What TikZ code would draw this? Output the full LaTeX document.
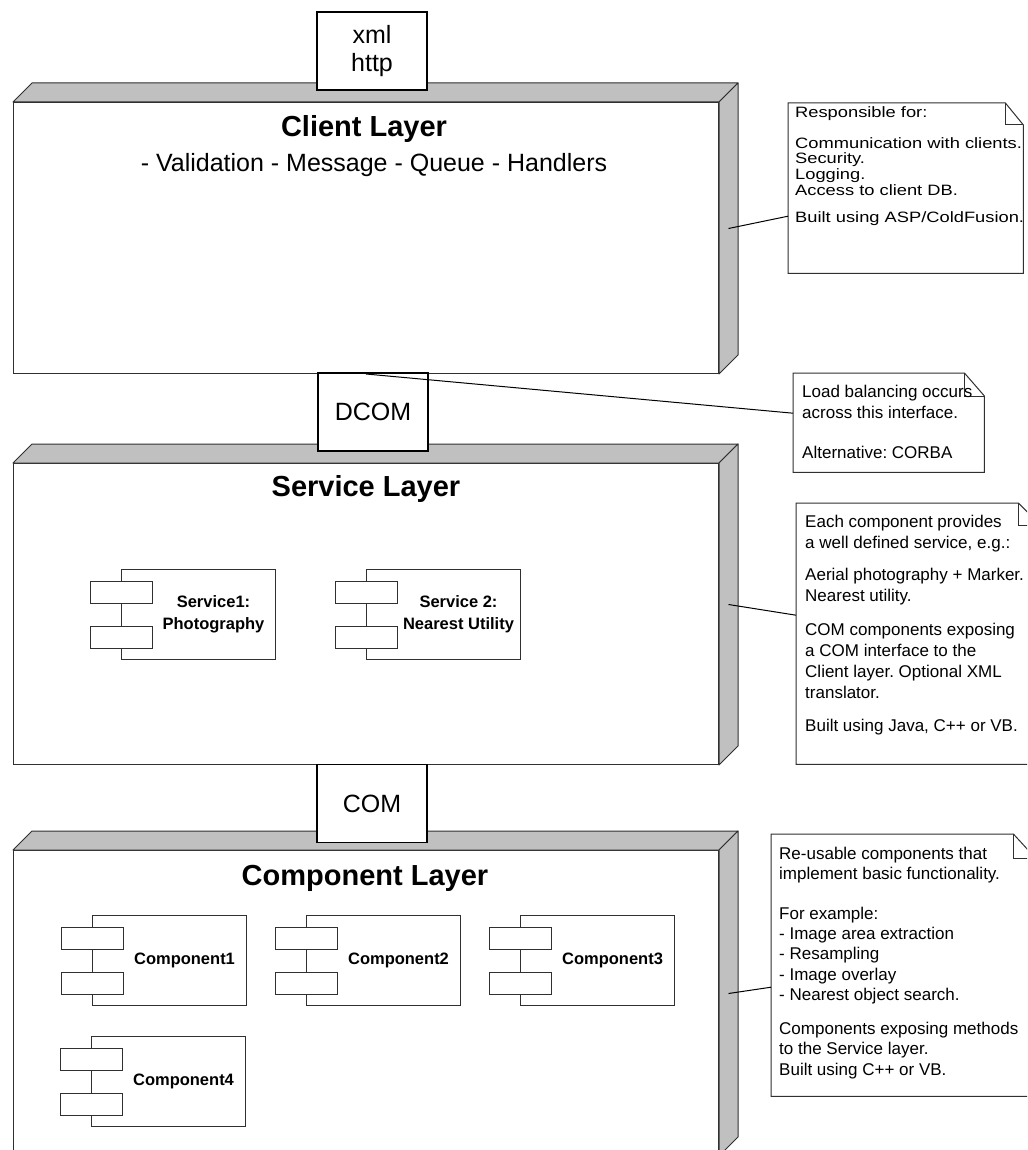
\documentclass[tikz,border=0pt]{standalone}
\usepackage{fontspec}
\setmainfont{Liberation Sans}
\newfontfamily\widefont[FakeStretch=1.22]{Liberation Sans}
\usetikzlibrary{calc}
\definecolor{facegray}{HTML}{C0C0C0}
\definecolor{edge}{HTML}{303030}
\frenchspacing
\tikzset{
  layerfront/.style={draw=edge, fill=white, line width=1pt, minimum width=705pt, inner sep=0pt, anchor=north west},
  face/.style={fill=facegray, draw=edge, line width=1pt, line join=round},
  ifbox/.style={draw=black, fill=white, line width=1.2pt, minimum width=110pt, minimum height=78pt, inner sep=0pt, font=\fontsize{25}{28}\selectfont, align=center},
  title/.style={font=\fontsize{29}{34}\selectfont\bfseries, inner sep=0pt},
  subtitle/.style={font=\fontsize{25}{30}\selectfont, inner sep=0pt},
  compbody/.style={draw=edge, fill=white, line width=1pt, minimum width=154pt, minimum height=90pt, inner sep=0pt, anchor=north west},
  compport/.style={draw=edge, fill=white, line width=1pt, minimum width=62pt, minimum height=22pt, inner sep=0pt, anchor=north west},
  complabel/.style={font=\fontsize{16.5}{22}\selectfont\bfseries, align=center, inner sep=0pt},
  notearea/.style={draw=none, inner sep=0pt, anchor=north west},
  noteline/.style={draw=edge, fill=white, line width=1pt, line join=miter},
  notetext/.style={anchor=base west, inner sep=0pt},
  link/.style={draw=black, line width=1pt}
}
\newcommand\drawfaces[1]{%
  \filldraw[face] (#1.north west) -- ++(19,-19) -- ([shift={(19,-19)}]#1.north east) -- (#1.north east) -- cycle;
  \filldraw[face] (#1.north east) -- ([shift={(19,-19)}]#1.north east) -- ([shift={(19,-19)}]#1.south east) -- (#1.south east) -- cycle;
  \coordinate (#1-side) at ($(#1.north east)!0.5!(#1.south east)+(9.5,-9.5)$);
}
\newcommand\drawcomp[4]{% name, left, top, label
  \node[compbody] (#1) at (#2,#3) {};
  \node[compport] (#1-p1) at ($(#1.north west)+(-31,11.5)$) {};
  \node[compport] (#1-p2) at ($(#1.north west)+(-31,56.5)$) {};
  \node[complabel] (#1-l) at ($(#1.west)+(92.5,0)$) {#4};
}
\newcommand\drawnote[3]{% name, ear width, ear height
  \draw[noteline] (#1.north west) -- ([xshift=-#2]#1.north east) -- ([yshift=-#3]#1.north east) -- (#1.south east) -- (#1.south west) -- cycle;
  \draw[noteline, fill=none] ([xshift=-#2]#1.north east) |- ([yshift=-#3]#1.north east);
}
\begin{document}
\begin{tikzpicture}[x=1pt, y=-1pt]
\useasboundingbox (0,0) rectangle (1027,1150);
\fill[white] (0,0) rectangle (1027,1150);
\clip (0,0) rectangle (1027,1150);

% layers
\node[layerfront, minimum height=271pt] (client) at (13,102) {};
\drawfaces{client}
\node[layerfront, minimum height=301pt] (service) at (13,463) {};
\drawfaces{service}
\node[layerfront, minimum height=305pt] (component) at (13,850) {};
\drawfaces{component}

% titles
\node[title] (clientT) at (364,129) {Client Layer};
\node[subtitle] (clientS) at (374,165) {- Validation - Message - Queue - Handlers};
\node[title] (serviceT) at (366,489) {Service Layer};
\node[title] (componentT) at (365,878) {Component Layer};

% interface boxes
\node[ifbox] (xml) at (372,51) {xml\\http};
\node[ifbox] (dcom) at (373,412) {DCOM};
\node[ifbox] (com) at (372,803.5) {COM};

% components
\drawcomp{svc1}{121}{569}{Service1:\\Photography}
\drawcomp{svc2}{366}{569}{Service 2:\\Nearest Utility}
\drawcomp{cmp1}{92}{915}{Component1}
\drawcomp{cmp2}{306}{915}{Component2}
\drawcomp{cmp3}{520}{915}{Component3}
\drawcomp{cmp4}{91}{1036}{Component4}

% notes
\node[notearea, minimum width=235pt, minimum height=170pt] (n1) at (788,103) {};
\drawnote{n1}{18pt}{22pt}
\node[notetext] (n1t) at (795,118) {\parbox[t]{300pt}{\widefont\fontsize{15}{15.7}\selectfont
Responsible for:\\[14.5pt]
Communication with clients.\\
Security.\\
Logging.\\
Access to client DB.\\[11.5pt]
Built using ASP/ColdFusion.}};

\node[notearea, minimum width=191pt, minimum height=99pt] (n2) at (793,373) {};
\drawnote{n2}{20pt}{23pt}
\node[notetext] (n2t) at (802,397) {\parbox[t]{300pt}{\fontsize{17}{21}\selectfont
Load balancing occurs\\
across this interface.\\[19pt]
Alternative: CORBA}};

\node[notearea, minimum width=244pt, minimum height=261pt] (n3) at (796,503) {};
\drawnote{n3}{22pt}{22pt}
\node[notetext] (n3t) at (805,527) {\parbox[t]{300pt}{\fontsize{17}{21}\selectfont
Each component provides\\
a well defined service, e.g.:\\[11pt]
Aerial photography + Marker.\\
Nearest utility.\\[13pt]
COM components exposing\\
a COM interface to the\\
Client layer. Optional XML\\
translator.\\[12pt]
Built using Java, C++ or VB.}};

\node[notearea, minimum width=264pt, minimum height=262pt] (n4) at (771,834) {};
\drawnote{n4}{22pt}{24pt}
\node[notetext] (n4t) at (779,859) {\parbox[t]{300pt}{\fontsize{17}{20.3}\selectfont
Re-usable components that\\
implement basic functionality.\\[19.7pt]
For example:\\
- Image area extraction\\
- Resampling\\
- Image overlay\\
- Nearest object search.\\[13.7pt]
Components exposing methods\\
to the Service layer.\\
Built using C++ or VB.}};

% connectors
\draw[link] (client-side) -- ([yshift=-28pt]n1.west);
\draw[link] (client.south) -- ([yshift=9.5pt]n2.west);
\draw[link] (service-side) -- ([yshift=18.5pt]n3.west);
\draw[link] (component-side) -- ([yshift=-22pt]n4.west);
\end{tikzpicture}
\end{document}
